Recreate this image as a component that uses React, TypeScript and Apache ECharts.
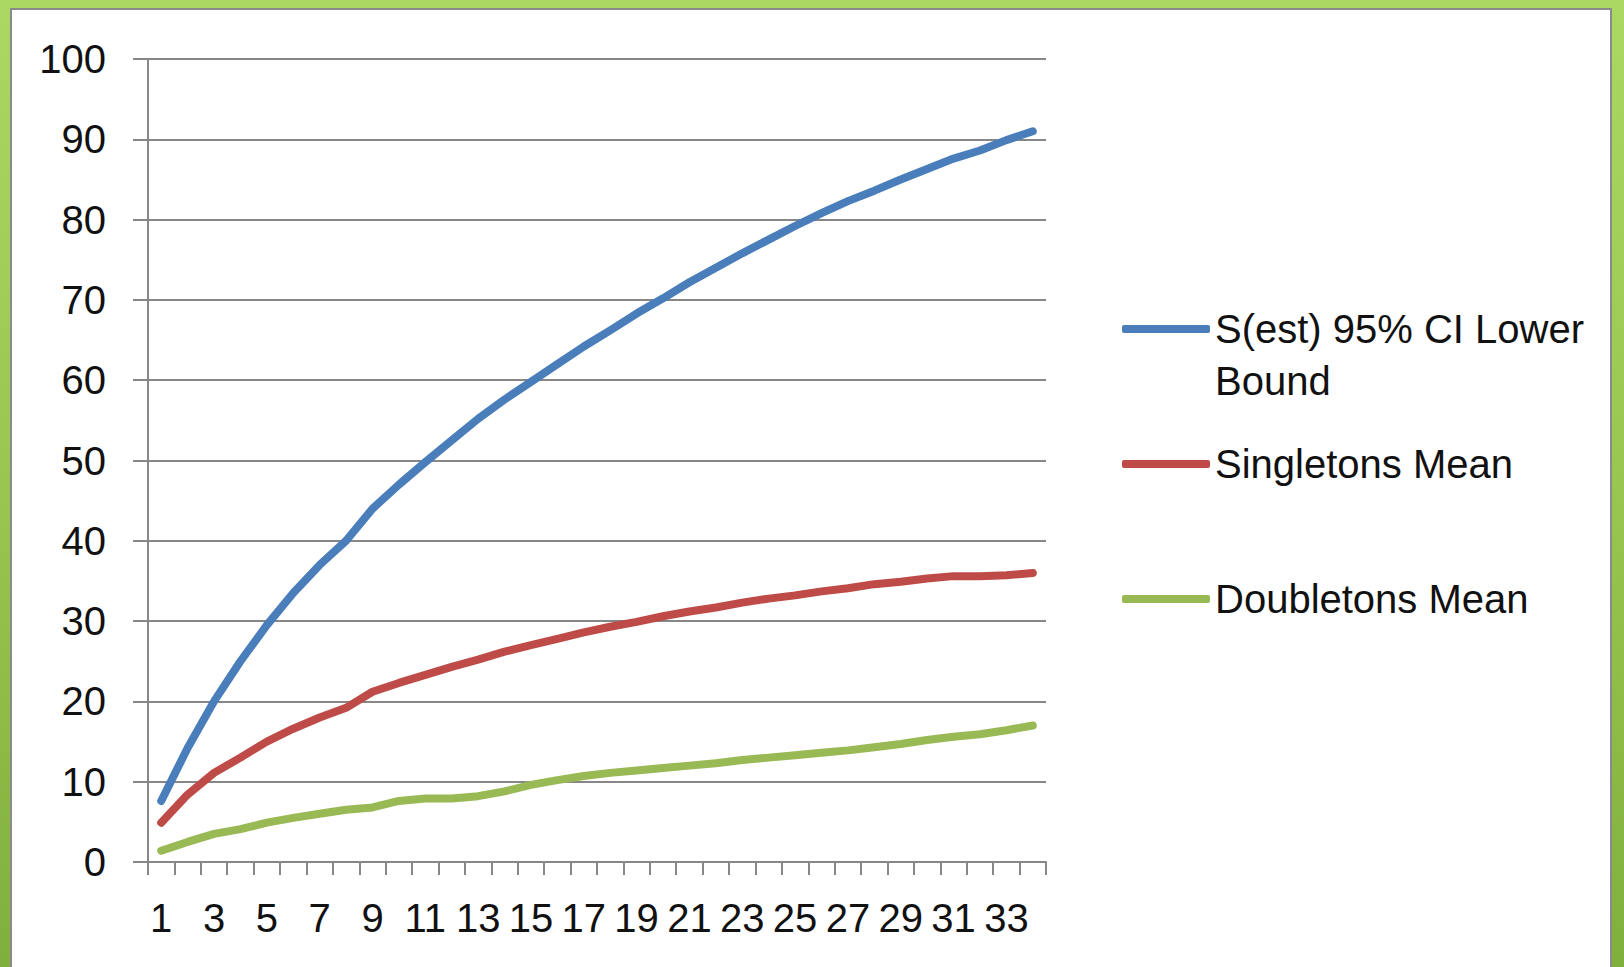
import React, { useEffect, useRef } from "react";
import * as echarts from "echarts";

const categories: string[] = Array.from({ length: 34 }, (_, i) => String(i + 1));

const seriesNames = ["S(est) 95% CI Lower Bound", "Singletons Mean", "Doubletons Mean"];

const sEstLower: number[] = [
  7.6, 14.2, 20, 25, 29.5, 33.5, 37, 40, 44, 47, 49.8, 52.5, 55.2, 57.6, 59.8, 62, 64.2,
  66.2, 68.3, 70.2, 72.2, 74, 75.8, 77.5, 79.2, 80.8, 82.3, 83.6, 85, 86.3, 87.6, 88.6, 89.9, 91,
];

const singletonsMean: number[] = [
  4.9, 8.4, 11.1, 13, 15, 16.6, 18, 19.2, 21.2, 22.3, 23.3, 24.3, 25.2, 26.2, 27, 27.8, 28.6,
  29.3, 29.9, 30.6, 31.2, 31.7, 32.3, 32.8, 33.2, 33.7, 34.1, 34.6, 34.9, 35.3, 35.6, 35.6, 35.7, 36,
];

const doubletonsMean: number[] = [
  1.4, 2.5, 3.5, 4.1, 4.9, 5.5, 6.0, 6.5, 6.8, 7.6, 7.9, 7.9, 8.2, 8.8, 9.6, 10.2, 10.7,
  11.1, 11.4, 11.7, 12.0, 12.3, 12.7, 13.0, 13.3, 13.6, 13.9, 14.3, 14.7, 15.2, 15.6, 15.9, 16.4, 17.0,
];

const colors = ["#4A7EBB", "#BE4B48", "#98B954"];

const FONT = "'Liberation Sans', Arial, sans-serif";

export default function App() {
  const ref = useRef<HTMLDivElement>(null);

  useEffect(() => {
    if (!ref.current) return;
    const chart = echarts.init(ref.current, undefined, { renderer: "svg" });
    const gray = "#878787";
    const legendBase = {
      orient: "vertical" as const,
      left: 1122,
      padding: 0,
      itemWidth: 88,
      itemHeight: 8,
      itemGap: 7,
      icon: "roundRect",
      selectedMode: false,
      textStyle: { fontFamily: FONT, fontSize: 40, color: "#111", lineHeight: 52 },
    };
    chart.setOption({
      animation: false,
      color: colors,
      textStyle: { fontFamily: FONT },
      grid: { left: 148, right: 578, top: 59, bottom: 105, containLabel: false },
      legend: [
        {
          ...legendBase,
          top: 251,
          data: [seriesNames[0]],
          formatter: () => "\nS(est) 95% CI Lower\nBound",
        },
        { ...legendBase, top: 438, data: [seriesNames[1]] },
        { ...legendBase, top: 573, data: [seriesNames[2]] },
      ],
      xAxis: {
        type: "category",
        data: categories,
        boundaryGap: true,
        axisLine: { show: true, lineStyle: { color: gray, width: 2 } },
        axisTick: { show: true, interval: 0, length: 13, lineStyle: { color: gray, width: 2 } },
        axisLabel: { interval: 1, margin: 36, fontSize: 40, color: "#111", fontFamily: FONT },
        splitLine: { show: false },
      },
      yAxis: {
        type: "value",
        min: 0,
        max: 100,
        interval: 10,
        axisLine: { show: true, lineStyle: { color: gray, width: 2 } },
        axisTick: { show: true, length: 15, lineStyle: { color: gray, width: 2 } },
        axisLabel: { margin: 42, fontSize: 40, color: "#111", fontFamily: FONT },
        splitLine: { show: true, lineStyle: { color: gray, width: 2 } },
      },
      series: [
        { name: seriesNames[0], data: sEstLower },
        { name: seriesNames[1], data: singletonsMean },
        { name: seriesNames[2], data: doubletonsMean },
      ].map((s, i) => ({
        ...s,
        type: "line",
        showSymbol: false,
        symbol: "none",
        lineStyle: { color: colors[i], width: 8, cap: "round", join: "round" },
        itemStyle: { color: colors[i] },
      })),
    });
    return () => chart.dispose();
  }, []);

  return (
    <div
      style={{
        position: "absolute",
        left: 0,
        top: 0,
        width: 1624,
        height: 967,
        overflow: "hidden",
        background: "linear-gradient(to bottom, #AAD862 0%, #98C651 50%, #80B03C 100%)",
      }}
    >
      <div
        style={{
          position: "absolute",
          left: 10,
          top: 8,
          width: 1602,
          height: 980,
          background: "#ffffff",
          border: "2px solid #8a8a8a",
          boxSizing: "border-box",
        }}
      />
      <div ref={ref} style={{ position: "absolute", left: 0, top: 0, width: 1624, height: 967 }} />
    </div>
  );
}
